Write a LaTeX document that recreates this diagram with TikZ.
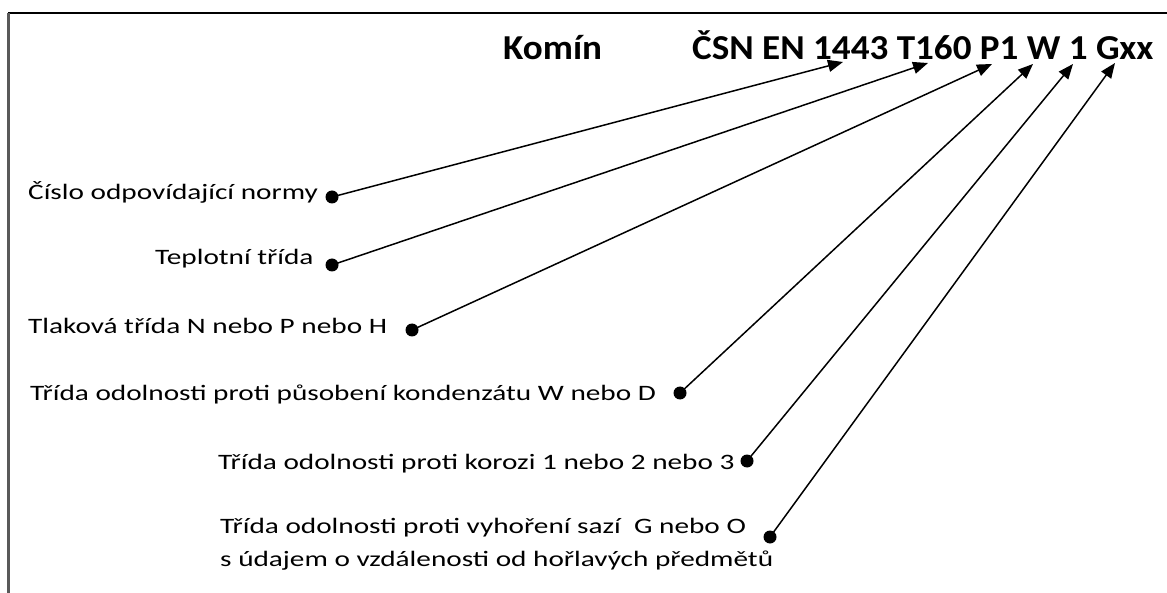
\documentclass[tikz,border=0pt]{standalone}
\usepackage{fontspec}
\setmainfont{Carlito}
\newfontfamily\labelfont{Carlito}[FakeStretch=1.33]
\newfontfamily\headfont{Carlito}[FakeStretch=1.06]
\usetikzlibrary{arrows.meta}
\tikzset{
  label text/.style={inner sep=0pt, anchor=base west, font=\labelfont\fontsize{22}{26}\selectfont},
  head text/.style={inner sep=0pt, anchor=base west, font=\headfont\bfseries\fontsize{35}{40}\selectfont},
  pin dot/.style={circle, fill=black, inner sep=0pt, minimum size=13pt},
  pointer/.style={line width=1.5pt, -{Triangle[length=15pt,width=12pt]}},
  frame/.style={line width=2pt}
}
\begin{document}
\begin{tikzpicture}[x=1pt,y=-1pt]
\useasboundingbox (0,0) rectangle (1167,593);
% frame edges
\draw[frame, black] (8,13.5) -- (1167,13.5);
\draw[frame, black!65, line width=2.5pt] (8.5,13) -- (8.5,593);

% heading
\node[head text] (komin) at (503,60) {Komín};
\node[head text] (code) at (692,60) {ČSN EN 1443 T160 P1 W 1 Gxx};

% labels
\node[label text] (l1) at (28,200) {Číslo odpovídající normy};
\node[label text] (l2) at (155,265) {Teplotní třída};
\node[label text] (l3) at (28,334) {Tlaková třída N nebo P nebo H};
\node[label text] (l4) at (30,400) {Třída odolnosti proti působení kondenzátu W nebo D};
\node[label text] (l5) at (218,469) {Třída odolnosti proti korozi 1 nebo 2 nebo 3};
\node[label text] (l6) at (220,533) {Třída odolnosti proti vyhoření sazí\ \ G nebo O};
\node[label text] (l7) at (220,566) {s údajem o vzdálenosti od hořlavých předmětů};

% dots
\node[pin dot] (d1) at (332,197) {};
\node[pin dot] (d2) at (332,265) {};
\node[pin dot] (d3) at (412,330) {};
\node[pin dot] (d4) at (680,393) {};
\node[pin dot] (d5) at (747,461) {};
\node[pin dot] (d6) at (770,537) {};

% arrow targets under the code
\coordinate (t1) at (843,62);
\coordinate (t2) at (928,63);
\coordinate (t3) at (992,64);
\coordinate (t4) at (1033,64);
\coordinate (t5) at (1073,64);
\coordinate (t6) at (1115,63);

\foreach \i in {1,...,6} {
  \draw[pointer] (d\i.center) -- (t\i);
}
\end{tikzpicture}
\end{document}
